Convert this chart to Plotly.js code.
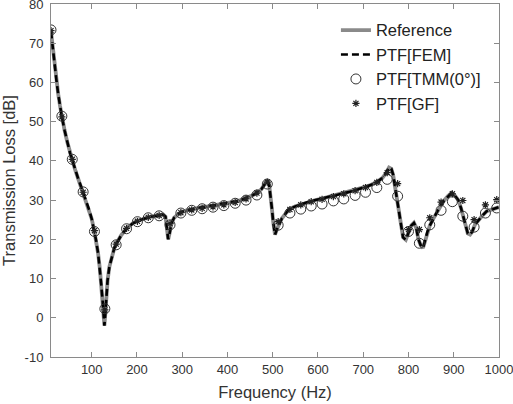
<!DOCTYPE html>
<html>
<head>
<meta charset="utf-8">
<script src="https://cdn.plot.ly/plotly-3.0.1.min.js"></script>
<style>html,body{margin:0;padding:0;background:#fff;}#chart{width:513px;height:404px;}</style>
</head>
<body>
<div id="chart"></div>
<script>
// Continuous curves (Reference and PTF[FEM])
var lineFreq = [10,14,18,22,26,30,34,40,46,52,57,64,70,76,81,88,95,100,105,110,114,118,121,124,126,128,130,132,135,139,145,150,155,165,177,190,201,213,225,237,249,258,263,266,269,272,276,282,290,297,310,321,333,344,356,368,380,392,404,417,429,441,453,465,475,482,488,492,495,498,501,505,509,514,520,530,538,550,562,574,585,597,609,622,634,646,657,670,682,694,705,718,730,742,750,757,762,766,770,774,778,783,788,794,800,806,812,817,822,827,832,837,842,847,855,863,870,878,887,895,902,910,916,921,926,931,936,941,947,955,963,973,985,995,1000];
var refTL = [73.0,68.5,64.5,60.5,57.0,54.0,51.2,47.8,44.8,42.0,40.2,37.5,35.5,33.6,32.0,29.8,27.3,25.2,22.5,19.5,16.5,12.5,8.5,4.5,1.5,-2.0,1.0,5.0,9.5,13.0,16.0,17.8,19.0,21.0,22.8,24.0,24.7,25.2,25.6,25.9,26.1,26.3,25.8,23.5,20.0,21.5,24.0,25.5,26.3,26.9,27.4,27.7,28.0,28.2,28.4,28.6,28.8,29.0,29.3,29.6,30.0,30.5,31.1,31.8,32.8,34.0,35.0,34.0,31.5,28.0,24.5,21.2,22.5,24.0,25.3,26.8,27.8,28.4,28.9,29.3,29.8,30.1,30.4,30.8,31.1,31.4,31.7,32.1,32.5,32.9,33.4,33.9,34.6,35.6,36.8,38.3,38.0,36.5,33.5,30.0,27.0,23.5,20.5,19.9,21.5,23.5,24.2,23.0,20.0,18.5,17.8,20.0,22.0,23.5,25.3,27.0,28.5,29.8,31.0,31.8,31.2,30.0,28.0,26.0,23.5,21.5,21.2,22.0,23.8,25.0,26.0,27.2,27.6,28.0,28.2];
var femTL = [73.0,68.5,64.5,60.5,57.0,54.0,51.2,47.8,44.8,42.0,40.2,37.5,35.5,33.6,32.0,29.8,27.3,25.2,22.5,19.5,16.5,12.5,8.5,4.5,1.5,-2.0,1.0,5.0,9.5,13.0,16.0,17.8,19.0,21.0,22.8,24.0,24.7,25.2,25.6,25.9,26.1,26.3,25.8,23.5,20.0,21.5,24.0,25.5,26.3,26.9,27.4,27.7,28.0,28.2,28.4,28.6,28.8,29.0,29.3,29.6,30.0,30.5,31.1,31.8,32.8,34.0,35.0,34.0,31.5,28.0,24.5,21.2,22.5,24.0,25.3,26.8,27.8,28.4,28.9,29.3,29.8,30.1,30.4,30.8,31.1,31.4,31.7,32.1,32.5,32.9,33.4,33.9,34.6,35.6,36.8,38.3,38.0,36.5,33.5,30.0,27.0,23.5,20.5,19.9,21.5,23.5,24.2,23.0,20.0,18.5,17.8,20.0,22.0,23.5,25.3,27.0,28.5,29.8,31.0,31.8,31.2,30.0,28.0,26.0,23.5,21.5,21.2,22.0,23.8,25.0,26.0,27.2,27.6,28.0,28.2];

// Discrete points
var ptFreq = [10,34,57,81,106,129,154,177,201,225,249,273,297,321,344,368,392,417,441,465,488,512,538,562,585,609,634,657,682,705,730,753,776,800,824,847,872,897,920,945,970,995];
var tmmTL = [73.4,51.4,40.4,32.1,22.0,2.3,18.6,22.7,24.5,25.5,26.0,23.7,26.7,27.4,27.8,28.2,28.6,29.2,30.0,31.3,34.1,23.6,26.7,27.7,28.5,29.0,29.8,30.3,31.2,32.0,33.2,35.3,31.0,22.0,19.0,23.7,27.4,29.6,25.9,23.1,26.7,28.0];
var gfTL = [73.2,51.2,40.4,32.0,22.2,2.0,18.8,22.8,24.6,25.6,26.1,24.0,26.8,27.5,27.9,28.3,28.8,29.4,30.3,31.8,34.6,24.5,27.6,28.8,29.6,30.2,30.9,31.6,32.4,33.2,34.5,37.0,34.2,22.5,22.5,25.5,29.5,31.6,29.9,25.0,28.8,30.1];

var xTicks = [100,200,300,400,500,600,700,800,900,1000];
var yTicks = [-10,0,10,20,30,40,50,60,70,80];

var traces = [
  {x: lineFreq, y: refTL, type: 'scatter', mode: 'lines', name: 'Reference',
   line: {color: '#8a8a8a', width: 3.8}},
  {x: lineFreq, y: femTL, type: 'scatter', mode: 'lines', name: 'PTF[FEM]',
   line: {color: '#000000', width: 2.6, dash: '7px,4px'}},
  {x: ptFreq, y: tmmTL, type: 'scatter', mode: 'markers', name: 'PTF[TMM(0°)]',
   marker: {symbol: 'circle-open', size: 10, color: '#333333', line: {width: 1, color: '#333333'}}},
  {x: ptFreq, y: gfTL, type: 'scatter', mode: 'markers', name: 'PTF[GF]',
   marker: {symbol: 'asterisk-open', size: 6, color: '#222222', line: {width: 1.2, color: '#222222'}}}
];

var axisCommon = {
  showline: true, linecolor: '#8a8a8a', linewidth: 1, mirror: 'ticks',
  ticks: 'inside', ticklen: 5, tickcolor: '#8a8a8a', tickwidth: 1,
  showgrid: false, zeroline: false, ticklabeloverflow: 'allow',
  tickfont: {family: 'Liberation Sans, Arial, sans-serif', size: 13, color: '#333333'}
};

var layout = {
  width: 513, height: 404,
  margin: {l: 51, r: 14, t: 3.5, b: 47.3},
  paper_bgcolor: '#ffffff', plot_bgcolor: '#ffffff',
  font: {family: 'Liberation Sans, Arial, sans-serif', size: 13, color: '#333333'},
  showlegend: true,
  legend: {x: 0.636, y: 0.975, xanchor: 'left', yanchor: 'top', bgcolor: 'rgba(0,0,0,0)',
           borderwidth: 0, font: {size: 16.5, color: '#222222'}, tracegroupgap: 0, itemwidth: 30},
  xaxis: Object.assign({}, axisCommon, {
    range: [10, 1000], tickmode: 'array', tickvals: xTicks, ticktext: xTicks.map(String),
    title: {text: 'Frequency (Hz)', font: {size: 16.5, color: '#333333'}, standoff: 10}
  }),
  yaxis: Object.assign({}, axisCommon, {
    range: [-10, 80], tickmode: 'array', tickvals: yTicks, ticktext: yTicks.map(String),
    ticklabelstandoff: 4,
    title: {text: 'Transmission Loss [dB]', font: {size: 16.5, color: '#333333'}, standoff: 6}
  })
};

Plotly.newPlot('chart', traces, layout, {displayModeBar: false, staticPlot: true});
</script>
</body>
</html>
